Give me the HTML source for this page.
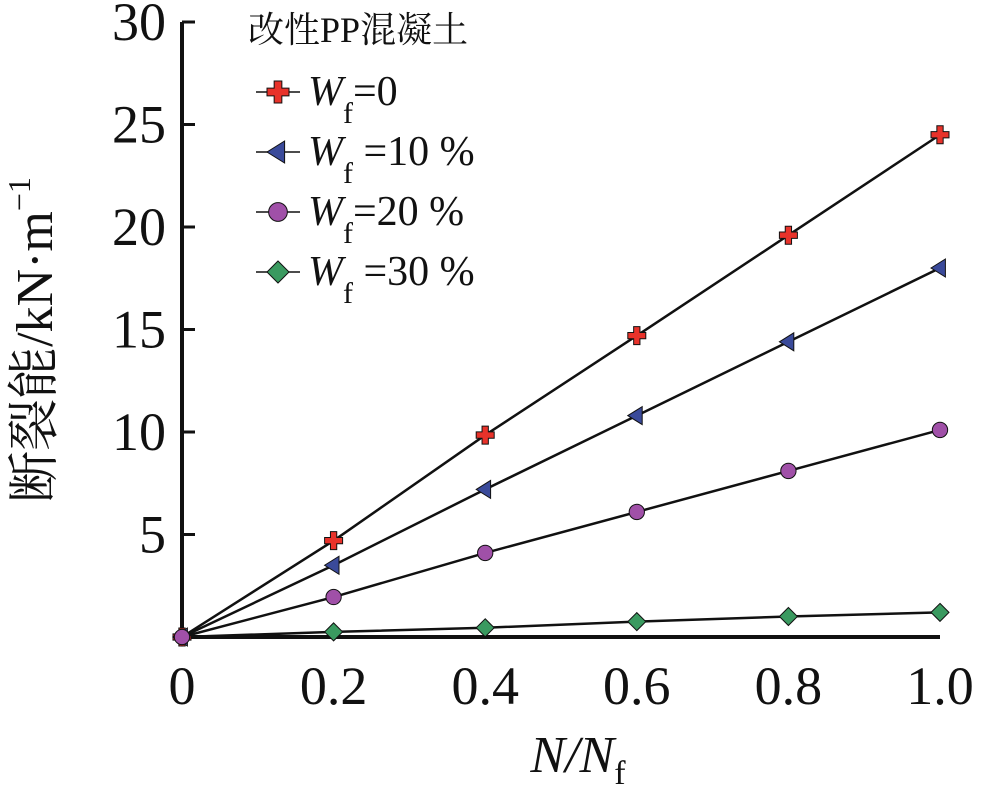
<!DOCTYPE html>
<html><head><meta charset="utf-8"><style>
body{margin:0;background:#fff}
svg text{font-family:"Liberation Serif","Times New Roman",serif;fill:#111}
svg text .cjk, svg text.cjk{font-family:"Noto Serif CJK SC","Noto Sans CJK SC",serif}
</style></head><body>
<svg width="985" height="795" viewBox="0 0 985 795">
<g id="axes"></g>
<g id="series"></g>
<g>
<text x="248" y="42" font-size="36"><tspan class="cjk">改性</tspan>PP<tspan class="cjk">混凝土</tspan></text>
</g>
<g id="legend"></g>
<text transform="translate(52,340) rotate(-90)" text-anchor="middle" font-size="52"><tspan class="cjk">断裂能</tspan>/kN·m<tspan dy="-22" font-size="32">−1</tspan></text>
<text x="578" y="772" text-anchor="middle" font-size="52" font-style="italic">N/N<tspan dy="12" font-size="34" font-style="normal">f</tspan></text>
</svg>
<script>
const xValues=[0,0.2,0.4,0.6,0.8,1.0];
const seriesNames=["Wf=0","Wf=10%","Wf=20%","Wf=30%"];
const w0=[0,4.7,9.85,14.7,19.6,24.5];
const w10=[0,3.5,7.2,10.8,14.4,18.0];
const w20=[0,1.95,4.1,6.1,8.1,10.1];
const w30=[0,0.25,0.45,0.75,1.0,1.2];
const xTicks=[0,0.2,0.4,0.6,0.8,1.0];
const xTickLabels=["0","0.2","0.4","0.6","0.8","1.0"];
const yTicks=[5,10,15,20,25,30];
const yTickLabels=["5","10","15","20","25","30"];
const legendLabels=["=0","=10 %","=20 %","=30 %"];
const NS="http://www.w3.org/2000/svg";
const X=v=>182+v*758, Y=v=>637-v*20.5;
function mk(t,a,p){const e=document.createElementNS(NS,t);for(const k in a)e.setAttribute(k,a[k]);p.appendChild(e);return e;}
const ax=document.getElementById('axes');
let l=mk('line',{x1:182,y1:Y(30),x2:182,y2:639,stroke:'#111','stroke-width':4},ax);


l=mk('line',{x1:180,y1:637,x2:940,y2:637,stroke:'#111','stroke-width':4},ax);


yTicks.forEach((v,i)=>{
 const t=mk('line',{x1:182,y1:Y(v),x2:195,y2:Y(v),stroke:'#111','stroke-width':3},ax);
 
 
 const tx=mk('text',{x:166,y:Y(v)+18,'text-anchor':'end','font-size':54},ax);tx.textContent=yTickLabels[i];
 
 
});
xTicks.forEach((v,i)=>{
 const tx=mk('text',{x:X(v),y:704,'text-anchor':'middle','font-size':54},ax);tx.textContent=xTickLabels[i];
 
 
});
const sg=document.getElementById('series');
const all=[w0,w10,w20,w30];
const styles=[['plus','#e8322a'],['tri','#3a4a9a'],['circ','#a050a8'],['diam','#3a9a60']];
function marker(g,kind,col,x,y,s){
 let e;
 if(kind==='plus'){const a=s*0.35;e=mk('path',{d:`M${x-a} ${y-s}h${2*a}v${s-a}h${s-a}v${2*a}h${-(s-a)}v${s-a}h${-2*a}v${-(s-a)}h${-(s-a)}v${-2*a}h${s-a}z`,fill:col,stroke:'#111','stroke-width':1},g);}
 else if(kind==='tri'){e=mk('path',{d:`M${x-s} ${y}L${x+s*0.6} ${y-s}L${x+s*0.6} ${y+s}Z`,fill:col,stroke:'#111','stroke-width':1},g);}
 else if(kind==='circ'){e=mk('circle',{cx:x,cy:y,r:s*0.85,fill:col,stroke:'#111','stroke-width':1},g);}
 else {e=mk('path',{d:`M${x} ${y-s}L${x+s} ${y}L${x} ${y+s}L${x-s} ${y}Z`,fill:col,stroke:'#111','stroke-width':1},g);}
 return e;
}
[3,0,1,2].forEach(si=>{
 const arr=all[si];
 const g=mk('g',{},sg);
 
 
 const p=mk('polyline',{points:arr.map((v,i)=>X(xValues[i])+','+Y(v)).join(' '),fill:'none',stroke:'#111','stroke-width':2.5},g);
 
 
 arr.forEach((v,i)=>{
  const m=marker(g,styles[si][0],styles[si][1],X(xValues[i]),Y(v),9);
  
  
 });
});
const lg=document.getElementById('legend');
legendLabels.forEach((lab,i)=>{
 const y=92+i*60;
 const g=mk('g',{},lg);
 
 
 mk('line',{x1:256,y1:y,x2:300,y2:y,stroke:'#111','stroke-width':1.5},g);
 marker(g,styles[i][0],styles[i][1],278,y,11);
 const t=mk('text',{x:308,y:y+13,'font-size':42},g);
 t.innerHTML='<tspan font-style="italic">W</tspan><tspan dy="18" font-size="30">f</tspan><tspan dy="-18">'+(i===0||i===2?'':' ')+lab+'</tspan>';
});
</script>
</body></html>
